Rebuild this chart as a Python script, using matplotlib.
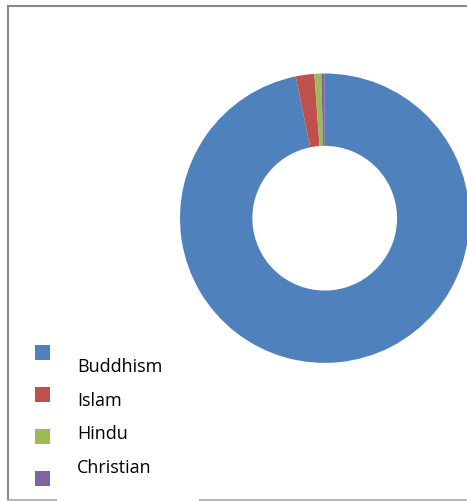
import matplotlib
matplotlib.use("Agg")
import matplotlib.pyplot as plt
from matplotlib.patches import Rectangle

religions = ["Buddhism", "Islam", "Hindu", "Christian"]
shares = [96.8, 2.07, 0.77, 0.37]
colors = ["#4F81BD", "#C0504D", "#9BBB59", "#8064A2"]

W, H = 467, 501
fig = plt.figure(figsize=(W / 100, H / 100), dpi=100)

# background / frame layer in pixel coordinates
bg = fig.add_axes([0, 0, 1, 1])
bg.set_xlim(0, W)
bg.set_ylim(H, 0)
bg.axis("off")
border = "#8a8a8a"
lw = 1.5
bg.plot([7.5, 7.5], [5.5, 500], color=border, lw=lw, solid_capstyle="butt")
bg.plot([7, W], [6.2, 6.2], color=border, lw=lw, solid_capstyle="butt")
bg.plot([7, 57], [500, 500], color="#a8a8a8", lw=1.2, solid_capstyle="butt")
bg.plot([199, W], [500, 500], color="#a8a8a8", lw=1.2, solid_capstyle="butt")

# legend (manual, to mimic the offset layout)
for i, (name, col) in enumerate(zip(religions, colors)):
    sy = 352 + 42.3 * i
    ty = 367 + 33.7 * i
    bg.add_patch(Rectangle((35, sy - 7.5), 15, 15, facecolor=col, edgecolor="none"))
    bg.text(77, ty, name, fontsize=13, family="Open Sans", color="#000000",
            va="center", ha="left")

# donut
cx, cy, r = 324.7, 218.2, 144.7
ax = fig.add_axes([(cx - r) / W, (H - cy - r) / H, 2 * r / W, 2 * r / H])
ax.pie(shares, colors=colors, startangle=90, counterclock=False,
       wedgeprops=dict(width=0.5, linewidth=0))
ax.set_xlim(-1, 1)
ax.set_ylim(-1, 1)
ax.set_aspect("auto")
ax.axis("off")

fig.savefig("out.png", dpi=100)
